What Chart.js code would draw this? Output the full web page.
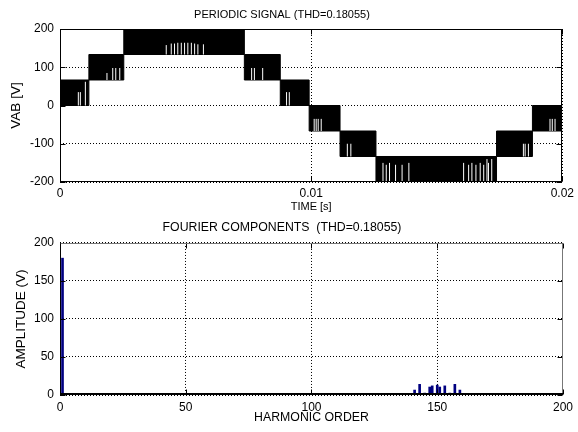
<!DOCTYPE html>
<html>
<head>
<meta charset="utf-8">
<script src="https://cdn.jsdelivr.net/npm/chart.js@4.4.1/dist/chart.umd.min.js"></script>
<style>
  html, body { margin: 0; padding: 0; background: #fff; }
  #wrap { position: relative; width: 578px; height: 432px; }
  canvas { position: absolute; left: 0; }
</style>
</head>
<body>
<div id="wrap">
  <canvas id="signal" width="578" height="216" style="top:0"></canvas>
  <canvas id="spectrum" width="578" height="216" style="top:216px"></canvas>
</div>
<script>
// output voltage: each step block switches between a low and a high level
const blockStart = [0, 0.00115, 0.00254, 0.00734, 0.00877, 0.00992, 0.01115, 0.01258, 0.01738, 0.01881, 0.02];
const blockLow  = [0, 66.7, 133.3, 66.7, 0, -66.7, -133.3, -200, -133.3, -66.7];
const blockHigh = [66.7, 133.3, 200, 133.3, 66.7, 0, -66.7, -133.3, -66.7, 0];

// longer pulses at the low level inside the blocks
const notchTime = [0.00073, 0.00081, 0.00101,
  0.00187, 0.00210, 0.00222, 0.00238,
  0.00423, 0.00443, 0.00456, 0.00469, 0.00483, 0.00496, 0.00509, 0.00523, 0.00536, 0.00549, 0.00571,
  0.00763, 0.00774, 0.00807,
  0.00902, 0.00913,
  0.01012, 0.01020, 0.01028, 0.01040,
  0.01144, 0.01158,
  0.01286, 0.01299, 0.01312, 0.01336, 0.01362, 0.01389,
  0.01607, 0.01627, 0.01640, 0.01656, 0.01673, 0.01687, 0.01700, 0.01706, 0.01719,
  0.01845, 0.01852, 0.01865,
  0.01951, 0.01960, 0.01971];
const notchFrom = [0, 0, 0,
  66.7, 66.7, 66.7, 66.7,
  133.3, 133.3, 133.3, 133.3, 133.3, 133.3, 133.3, 133.3, 133.3, 133.3, 133.3,
  66.7, 66.7, 66.7,
  0, 0,
  -66.7, -66.7, -66.7, -66.7,
  -133.3, -133.3,
  -200, -200, -200, -200, -200, -200,
  -200, -200, -200, -200, -200, -200, -200, -200, -200,
  -133.3, -133.3, -133.3,
  -66.7, -66.7, -66.7];
const notchTo = [35, 35, 62,
  85, 98, 98, 98,
  158, 162, 162, 164, 164, 164, 164, 164, 162, 160, 160,
  98, 98, 98,
  35, 35,
  -35, -35, -35, -35,
  -100, -100,
  -150, -155, -150, -155, -155, -150,
  -150, -155, -150, -155, -150, -155, -140, -150, -140,
  -100, -100, -100,
  -35, -35, -35];

// harmonic spectrum
const harmonicOrder = [1, 139, 141, 143, 145, 147, 148, 150, 151, 153, 155, 157, 159, 161];
const harmonicAmp   = [180, 1.5, 6.5, 14, 2.5, 10.5, 12, 13, 10.5, 12, 2.5, 14, 6.5, 1.5];

const thd = 0.18055;
const FAMILY = "'Liberation Sans', Arial, Helvetica, sans-serif";
const FONT = { family: FAMILY, size: 11 };
const FONT_LOWER = { family: FAMILY, size: 12.3 };
const TICK_FONT = { family: FAMILY, size: 12 };
const YTITLE_FONT = { family: FAMILY, size: 13.5 };

// box round the plot with short inward tick marks
function framePlugin(sideColor, bottomWidth) {
  return {
    id: 'frame',
    afterDraw(chart) {
      const { ctx, chartArea: a, scales } = chart;
      const L = Math.round(a.left) + 0.5, R = Math.round(a.right) - 0.5;
      const T = Math.round(a.top) + 0.5, B = Math.round(a.bottom) - 0.5;
      ctx.save();
      ctx.lineWidth = 1;
      ctx.strokeStyle = '#000';
      ctx.beginPath();
      scales.x.ticks.forEach(t => {
        const px = Math.round(scales.x.getPixelForValue(t.value)) + 0.5;
        ctx.moveTo(px, B); ctx.lineTo(px, B - 5);
        ctx.moveTo(px, T); ctx.lineTo(px, T + 5);
      });
      scales.y.ticks.forEach(t => {
        const py = Math.round(scales.y.getPixelForValue(t.value)) + 0.5;
        ctx.moveTo(L, py); ctx.lineTo(L + 5, py);
        ctx.moveTo(R, py); ctx.lineTo(R - 5, py);
      });
      ctx.stroke();
      ctx.strokeStyle = sideColor;
      ctx.beginPath();
      ctx.moveTo(L, T); ctx.lineTo(R, T); ctx.lineTo(R, B);
      ctx.stroke();
      ctx.strokeStyle = '#000';
      ctx.beginPath();
      ctx.moveTo(L, T); ctx.lineTo(L, B);
      ctx.stroke();
      ctx.lineWidth = bottomWidth;
      ctx.beginPath();
      ctx.moveTo(a.left, a.bottom - bottomWidth / 2); ctx.lineTo(a.right, a.bottom - bottomWidth / 2);
      ctx.stroke();
      ctx.restore();
    }
  };
}

const dotted = { color: '#000', lineWidth: 1, drawTicks: false };
const dottedBorder = { display: false, dash: [1, 2] };

function axes(cfg) {
  return {
    x: {
      type: 'linear', min: cfg.xMin, max: cfg.xMax, offset: false,
      grid: { ...dotted, offset: false },
      border: dottedBorder,
      ticks: { stepSize: cfg.xStep, padding: cfg.xTickPad, color: '#000', font: TICK_FONT, maxRotation: 0 },
      title: { display: true, text: cfg.xTitle, color: '#000', font: cfg.xTitleFont, padding: { top: 0, bottom: cfg.xTitlePad } },
      afterFit(s) { s.height = cfg.xHeight; }
    },
    y: {
      min: cfg.yMin, max: cfg.yMax,
      grid: dotted,
      border: dottedBorder,
      ticks: { stepSize: cfg.yStep, padding: 6, color: '#000', font: TICK_FONT },
      title: { display: true, text: cfg.yTitle, color: '#000', font: YTITLE_FONT, padding: { top: cfg.yTitlePad, bottom: 0 } },
      afterFit(s) { s.width = 60; }
    }
  };
}

// 'before': each value holds until the next block start
const stepPoints = (levels) => blockStart.map((t, i) => ({ x: t, y: levels[Math.min(i, levels.length - 1)] }));

const notchPoints = [];
notchTime.forEach((t, i) => {
  notchPoints.push({ x: t, y: notchFrom[i] }, { x: t, y: notchTo[i] }, { x: t, y: null });
});

new Chart(document.getElementById('signal'), {
  type: 'line',
  data: {
    datasets: [
      { label: 'notches', data: notchPoints, borderColor: '#fff', borderWidth: 1, pointRadius: 0, fill: false, spanGaps: false },
      { label: 'high', data: stepPoints(blockHigh), stepped: 'before', borderColor: '#000', borderWidth: 1, pointRadius: 0, fill: false },
      { label: 'low', data: stepPoints(blockLow), stepped: 'before', borderColor: '#000', borderWidth: 1, pointRadius: 0, fill: '-1', backgroundColor: '#000' }
    ]
  },
  options: {
    responsive: false,
    animation: false,
    layout: { padding: { left: 0, right: 14, top: 0, bottom: 0 } },
    plugins: {
      legend: { display: false },
      tooltip: { enabled: false },
      title: { display: true, text: 'PERIODIC SIGNAL (THD=' + thd + ')', color: '#000', font: { ...FONT, weight: 'normal' }, padding: { top: 8, bottom: 7.8 } }
    },
    scales: axes({ xMin: 0, xMax: 0.02, xStep: 0.01, xTickPad: 4, xTitle: 'TIME [s]', xTitleFont: FONT, xTitlePad: 2, xHeight: 34,
                   yMin: -200, yMax: 200, yStep: 100, yTitle: 'VAB [V]', yTitlePad: 8.2 })
  },
  plugins: [framePlugin('#000', 1)]
});

new Chart(document.getElementById('spectrum'), {
  type: 'bar',
  data: {
    datasets: [{
      label: 'amplitude',
      data: harmonicOrder.map((h, i) => ({ x: h, y: harmonicAmp[i] })),
      backgroundColor: '#000080',
      borderWidth: 0,
      barThickness: 2
    }]
  },
  options: {
    responsive: false,
    animation: false,
    layout: { padding: { left: 0, right: 14, top: 0, bottom: 0 } },
    plugins: {
      legend: { display: false },
      tooltip: { enabled: false },
      title: { display: true, text: 'FOURIER COMPONENTS  (THD=' + thd + ')', color: '#000', font: { ...FONT_LOWER, weight: 'normal' }, padding: { top: 4.6, bottom: 7.6 } }
    },
    scales: axes({ xMin: 0, xMax: 200, xStep: 50, xTickPad: 5, xTitle: 'HARMONIC ORDER', xTitleFont: FONT_LOWER, xTitlePad: 7.1, xHeight: 37,
                   yMin: 0, yMax: 200, yStep: 50, yTitle: 'AMPLITUDE (V)', yTitlePad: 12.9 })
  },
  plugins: [framePlugin('#777', 2)]
});
</script>
</body>
</html>
